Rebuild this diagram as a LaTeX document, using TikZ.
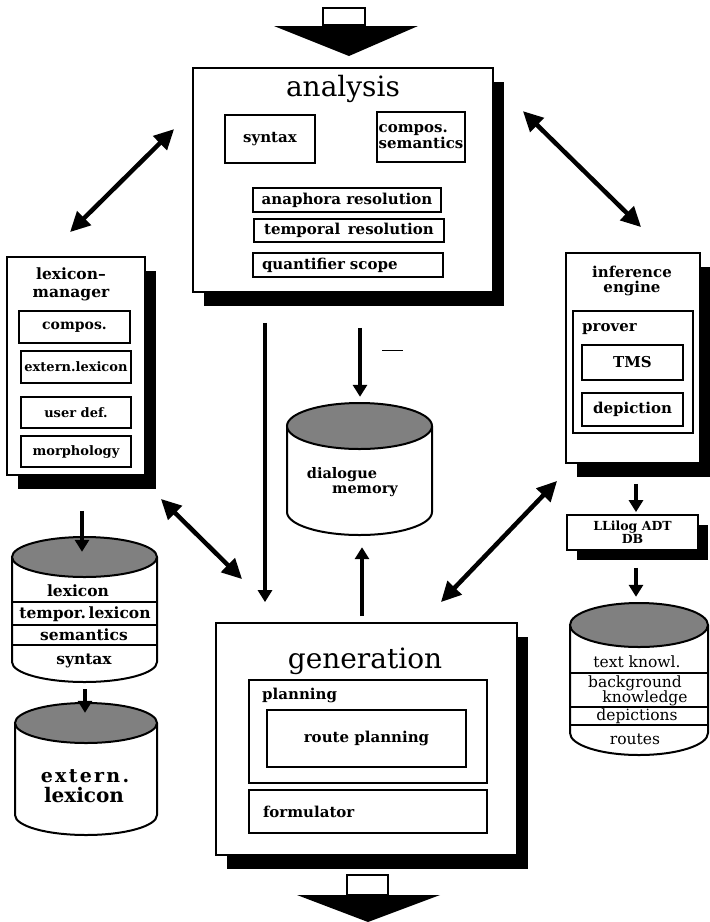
\documentclass[tikz,border=0pt]{standalone}
\usepackage{fontspec}
\setmainfont{DejaVu Serif}
\newfontfamily\spacedfont[LetterSpace=12]{DejaVu Serif}
\usetikzlibrary{shadows,arrows.meta,calc}
\newcommand\mydrum[5]{%
  \fill[white] (#1-#4,#2) -- (#1-#4,#3) arc[start angle=180,end angle=360,x radius=#4pt,y radius=#5pt] -- (#1+#4,#2) -- cycle;
  \draw[cylline] (#1-#4,#2) -- (#1-#4,#3) arc[start angle=180,end angle=360,x radius=#4pt,y radius=#5pt] -- (#1+#4,#2);
  \draw[cylline,fill=black!50] (#1,#2) ellipse[x radius=#4pt,y radius=#5pt];}
\begin{document}
\begin{tikzpicture}[x=1pt,y=-1pt,
  every node/.style={inner sep=0pt, align=center, font=\bfseries\fontsize{15}{16}\selectfont},
  bigbox/.style={draw, line width=1.8pt, fill=white, drop shadow={shadow xshift=11pt, shadow yshift=-14pt, fill=black, opacity=1}},
  smallbox/.style={draw, line width=1.8pt, fill=white, drop shadow={shadow xshift=10pt, shadow yshift=-10pt, fill=black, opacity=1}},
  inbox/.style={draw, line width=1.1pt, fill=white},
  leftbox/.style={inbox, align=left, inner xsep=9pt},
  title/.style={font=\fontsize{28}{30}\selectfont},
  lmfont/.style={font=\bfseries\fontsize{13}{14}\selectfont},
  hfont/.style={font=\bfseries\fontsize{15}{16}\selectfont},
  cylline/.style={line width=2pt},
  band/.style={line width=1.4pt},
  dbl/.style={line width=4.5pt, {Triangle[length=20pt,width=19pt]}-{Triangle[length=20pt,width=19pt]}},
  flow/.style={line width=4.5pt, -{Triangle[length=12pt,width=14pt]}},
  cyltext/.style={font=\bfseries\fontsize{15.5}{16}\selectfont},
  kbtext/.style={font=\fontsize{15.5}{16}\selectfont},
]
\useasboundingbox (0,0) rectangle (710,922);

% input arrow
\node[draw, line width=1.2pt, minimum width=42pt, minimum height=17pt] (inrect) at (344,16.5) {};
\fill (274,26) -- (418,26) -- (349,56) -- cycle;

% analysis
\node[bigbox, minimum width=300pt, minimum height=224pt] (analysis) at (343,180) {};
\node[title] (antitle) at (343,89) {analysis};
\node[inbox, minimum width=90pt, minimum height=48pt] (syntax) at (270,139) {syntax};
\node[inbox, minimum width=88pt, minimum height=50pt, align=left] (compsem) at (421,137) {compos.\\semantics};
\node[inbox, minimum width=188pt, minimum height=24pt] (anaph) at (347,200) {anaphora resolution};
\node[inbox, minimum width=190pt, minimum height=23pt] (tempres) at (349,230.5) {temporal\enspace resolution};
\node[leftbox, minimum height=24pt, text width=172pt] (quant) at (348,265) {quantifier scope};

% lexicon manager
\node[bigbox, minimum width=138pt, minimum height=218pt] (lexman) at (76,366) {};
\node[font=\bfseries\fontsize{15.5}{18}\selectfont] (lmtitle) at (71,284) {lexicon–\\manager};
\node[inbox, font=\bfseries\fontsize{14}{15}\selectfont, minimum width=111pt, minimum height=32pt] (lmcompos) at (74.5,327) {compos.};
\node[inbox, lmfont, minimum width=110pt, minimum height=32pt] (lmextern) at (76,367) {extern.lexicon};
\node[inbox, lmfont, minimum width=110pt, minimum height=31pt] (lmuser) at (76,412.5) {user def.};
\node[inbox, lmfont, minimum width=110pt, minimum height=31pt] (lmmorph) at (76,451.5) {morphology};

% inference engine
\node[bigbox, minimum width=134pt, minimum height=210pt] (inference) at (633,358) {};
\node[font=\bfseries\fontsize{15}{15}\selectfont] (ietitle) at (632,281) {inference\\engine};
\node[inbox, minimum width=120pt, minimum height=122pt] (prover) at (633,372) {};
\node[anchor=west, hfont] (provertitle) at (582,329) {prover};
\node[inbox, hfont, minimum width=101pt, minimum height=35pt] (tms) at (632.5,362.5) {TMS};
\node[inbox, hfont, minimum width=101pt, minimum height=33pt] (depiction) at (632.5,409.5) {depiction};

% LLilog
\node[smallbox, minimum width=131pt, minimum height=35pt, font=\bfseries\fontsize{12.5}{11}\selectfont] (llilog) at (632.5,532.5) {LLilog ADT\\DB};

% generation
\node[bigbox, minimum width=301pt, minimum height=232pt] (generation) at (366.5,739) {};
\node[title] (gentitle) at (365,661) {generation};
\node[inbox, minimum width=238pt, minimum height=103pt] (planning) at (368,731.5) {};
\node[anchor=west] (plantitle) at (262,695) {planning};
\node[inbox, minimum width=199pt, minimum height=57pt] (route) at (366.5,738.5) {route planning};
\node[leftbox, inner xsep=14pt, minimum height=43pt, text width=210pt] (formulator) at (368,811.5) {formulator};

% output arrow
\node[draw, line width=1.2pt, minimum width=41pt, minimum height=20pt] (outrect) at (367.5,885) {};
\fill (297,895) -- (440,895) -- (368,922) -- cycle;

% dialogue memory
\mydrum{359.5}{426}{512}{72.5}{23}
\node[minimum width=145pt, minimum height=132pt] (dm) at (359.5,469) {};
\node[font=\bfseries\fontsize{14.5}{15}\selectfont] (dmt1) at (342,475) {dialogue};
\node[font=\bfseries\fontsize{14.5}{15}\selectfont] (dmt2) at (365,491) {memory};

% lexicon cylinder
\mydrum{84.5}{557}{662}{72.5}{20}
\node[minimum width=145pt, minimum height=146pt] (lexc) at (84.5,610) {};
\draw[band] (12,602) -- (157,602);
\draw[band] (12,625) -- (157,625);
\draw[band] (12,645) -- (157,645);
\node[cyltext] (lc1) at (78,591) {lexicon};
\node[cyltext] (lc2) at (85,614) {tempor.\,lexicon};
\node[cyltext] (lc3) at (84,635) {semantics};
\node[cyltext] (lc4) at (84,661) {syntax};

% extern lexicon cylinder
\mydrum{86}{723}{815}{71}{20}
\node[minimum width=142pt, minimum height=132pt] (extc) at (86,769) {};
\node[font=\spacedfont\bfseries\fontsize{19}{20}\selectfont] (ec1) at (85,776) {extern.};
\node[font=\bfseries\fontsize{20}{21}\selectfont] (ec2) at (84,795) {lexicon};

% knowledge base cylinder
\mydrum{639}{625}{733}{69}{22}
\node[minimum width=138pt, minimum height=152pt] (kb) at (639,679) {};
\draw[band] (570,673) -- (708,673);
\draw[band] (570,707) -- (708,707);
\draw[band] (570,725) -- (708,725);
\node[kbtext] (kb1) at (637,662) {text knowl.};
\node[kbtext] (kb2) at (635,683) {background};
\node[kbtext] (kb3) at (645,698) {knowledge};
\node[kbtext] (kb4) at (637,716) {depictions};
\node[kbtext] (kb5) at (635,739) {routes};

% small dash
\draw[line width=1pt] (382,350) -- (403,350);

% vertical flows
\draw[flow] ($(analysis.south)+(17,35)$) -- ($(dm.north)+(0.5,-6)$);
\draw[flow] ($(analysis.south)+(-78,30)$) -- ($(generation.north)+(-101.5,-20)$);
\draw[flow] ($(generation.north)+(-4.5,-6)$) -- ($(dm.south)+(2.5,12)$);
\draw[flow] ($(lexman.south)+(6,35)$) -- ($(lexc.north)+(-2.5,15)$);
\draw[flow] ($(lexc.south)+(0.5,6)$) -- ($(extc.north)+(-1,10)$);
\draw[flow] ($(inference.south)+(3,20)$) -- ($(llilog.north)+(3.5,-2)$);
\draw[flow] ($(llilog.south)+(3.5,17)$) -- ($(kb.north)+(-3,-6)$);

% double arrows
\draw[dbl] ([shift={(-18,62)}]analysis.north west) -- ([shift={(-6,-24)}]lexman.north);
\draw[dbl] ([shift={(29,44)}]analysis.north east) -- ([shift={(76,-25)}]inference.north west);
\draw[dbl] ([shift={(15,23)}]lexman.south east) -- ([shift={(27,-43)}]generation.north west);
\draw[dbl] ([shift={(-8,17)}]inference.south west) -- ([shift={(-77,-20)}]generation.north east);
\end{tikzpicture}
\end{document}
